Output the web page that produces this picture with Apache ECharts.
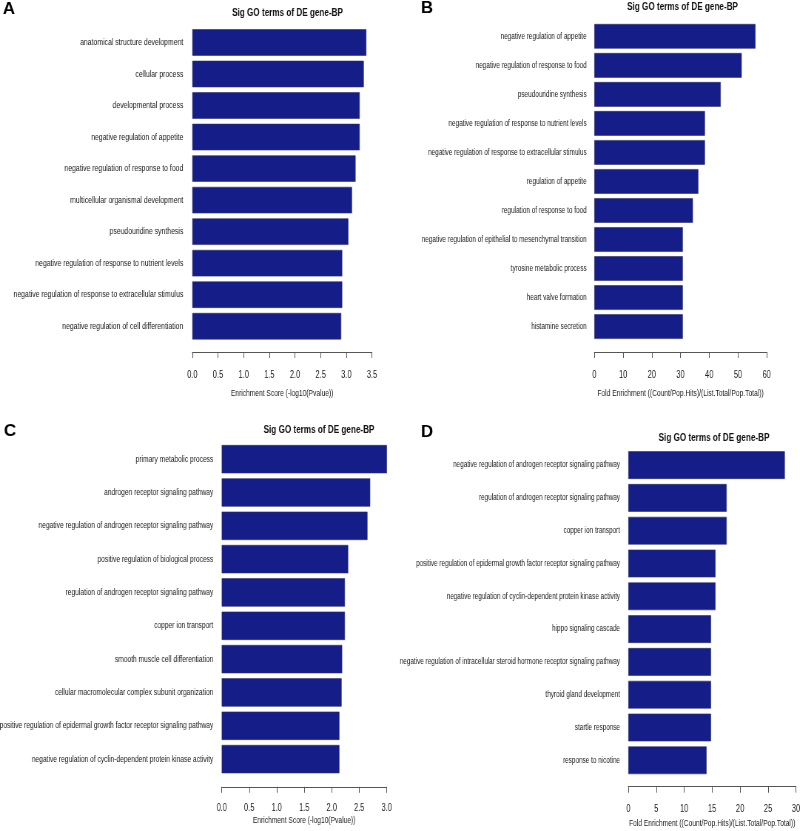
<!DOCTYPE html>
<html>
<head>
<meta charset="utf-8">
<script src="https://cdn.jsdelivr.net/npm/echarts@6/dist/echarts.min.js"></script>
<style>
html,body{margin:0;padding:0;background:#fff;}
#wrap{width:800px;height:831px;overflow:hidden;position:relative;}
#chart{height:831px;transform-origin:0 0;}
</style>
</head>
<body>
<div id="wrap"><div id="chart"></div></div>
<script>
// ---- Data ----
const chartTitle = 'Sig GO terms of DE gene-BP';
const panelLetters = ['A', 'B', 'C', 'D'];

const catsA = [
  'anatomical structure development',
  'cellular process',
  'developmental process',
  'negative regulation of appetite',
  'negative regulation of response to food',
  'multicellular organismal development',
  'pseudouridine synthesis',
  'negative regulation of response to nutrient levels',
  'negative regulation of response to extracellular stimulus',
  'negative regulation of cell differentiation'
];
const valsA = [3.39, 3.34, 3.26, 3.26, 3.18, 3.11, 3.04, 2.92, 2.92, 2.90];

const catsB = [
  'negative regulation of appetite',
  'negative regulation of response to food',
  'pseudouridine synthesis',
  'negative regulation of response to nutrient levels',
  'negative regulation of response to extracellular stimulus',
  'regulation of appetite',
  'regulation of response to food',
  'negative regulation of epithelial to mesenchymal transition',
  'tyrosine metabolic process',
  'heart valve formation',
  'histamine secretion'
];
const valsB = [56.1, 51.3, 44.0, 38.5, 38.5, 36.2, 34.3, 30.8, 30.8, 30.8, 30.8];

const catsC = [
  'primary metabolic process',
  'androgen receptor signaling pathway',
  'negative regulation of androgen receptor signaling pathway',
  'positive regulation of biological process',
  'regulation of androgen receptor signaling pathway',
  'copper ion transport',
  'smooth muscle cell differentiation',
  'cellular macromolecular complex subunit organization',
  'positive regulation of epidermal growth factor receptor signaling pathway',
  'negative regulation of cyclin-dependent protein kinase activity'
];
const valsC = [3.01, 2.70, 2.65, 2.30, 2.24, 2.24, 2.19, 2.18, 2.14, 2.14];

const catsD = [
  'negative regulation of androgen receptor signaling pathway',
  'regulation of androgen receptor signaling pathway',
  'copper ion transport',
  'positive regulation of epidermal growth factor receptor signaling pathway',
  'negative regulation of cyclin-dependent protein kinase activity',
  'hippo signaling cascade',
  'negative regulation of intracellular steroid hormone receptor signaling pathway',
  'thyroid gland development',
  'startle response',
  'response to nicotine'
];
const valsD = [28.0, 17.6, 17.6, 15.6, 15.6, 14.8, 14.8, 14.8, 14.8, 14.0];

const axisNameES = 'Enrichment Score (-log10(Pvalue))';
const axisNameFE = 'Fold Enrichment ((Count/Pop.Hits)/(List.Total/Pop.Total))';
const axisMaxes = [3.5, 60, 3.0, 30];
const axisSteps = [0.5, 10, 0.5, 5];

// ---- Layout (screen pixels; the figure is horizontally condensed like the original) ----
const S = 0.74;                       // horizontal condensation of the whole figure
const W = 800 / S;
const el = document.getElementById('chart');
el.style.width = W + 'px';
el.style.transform = 'scaleX(' + S + ')';

const font = "'Liberation Sans',Arial,sans-serif";
const barColor = '#151d88';
const layout = [
  {left:192.3, top:26.7, width:179.7, height:315.3, offset:10, lblMargin:18, nameGap:37, labMargin:9, labSize:9.3, gap:'16%', title:[287.5,13], letter:[9,9]},
  {left:594.3, top:21.8, width:172.4, height:319.3, offset:10.9, lblMargin:18, nameGap:37, labMargin:7.6, labSize:8.7, gap:'15%', title:[682.5,7], letter:[427,8.5]},
  {left:221.7, top:442.5, width:165, height:333.3, offset:11, lblMargin:16, nameGap:29, labMargin:8.4, labSize:9, gap:'15%', title:[319,430], letter:[10,431]},
  {left:628.3, top:448.7, width:167.7, height:328, offset:10, lblMargin:18, nameGap:32, labMargin:8.3, labSize:8.6, gap:'15.5%', title:[714,438], letter:[427,432]}
];
const cats = [catsA, catsB, catsC, catsD];
const vals = [valsA, valsB, valsC, valsD];
const names = [axisNameES, axisNameFE, axisNameES, axisNameFE];

const grid = [], xAxis = [], yAxis = [], series = [], graphic = [];
for (let i = 0; i < 4; i++) {
  const L = layout[i];
  grid.push({left:L.left / S, top:L.top, width:L.width / S, height:L.height,
    containLabel:false, outerBoundsMode:'none'});
  xAxis.push({
    type:'value', gridIndex:i, min:0, max:axisMaxes[i], interval:axisSteps[i],
    position:'bottom', offset:L.offset,
    axisLine:{show:true, lineStyle:{color:'#555', width:1}},
    axisTick:{show:true, length:6, inside:false, lineStyle:{color:'#555'}},
    axisLabel:{show:true, margin:L.lblMargin, color:'#222', fontSize:10, fontFamily:font,
      hideOverlap:false,
      formatter: v => (axisSteps[i] < 1 ? v.toFixed(1) : String(v))},
    splitLine:{show:false},
    name:names[i], nameLocation:'middle', nameGap:L.nameGap,
    nameTextStyle:{color:'#1a1a1a', fontSize:9, fontFamily:font}
  });
  yAxis.push({
    type:'category', gridIndex:i, data:cats[i], inverse:true,
    axisLine:{show:false}, axisTick:{show:false},
    axisLabel:{margin:L.labMargin / S, color:'#1a1a1a', fontSize:L.labSize, fontFamily:font, interval:0}
  });
  series.push({
    type:'bar', xAxisIndex:i, yAxisIndex:i, data:vals[i], barCategoryGap:L.gap,
    itemStyle:{color:barColor, borderColor:'#2b2f66', borderWidth:0.6},
    silent:true, animation:false
  });
  graphic.push({type:'text', x:L.title[0] / S, y:L.title[1],
    style:{text:chartTitle, font:"bold 11px " + font, fill:'#111', align:'center', verticalAlign:'middle'}});
  graphic.push({type:'text', x:L.letter[0] / S, y:L.letter[1], scaleX:1 / S,
    style:{text:panelLetters[i], font:"bold 17px " + font, fill:'#000', align:'center', verticalAlign:'middle'}});
}

const chart = echarts.init(el, null, {renderer:'canvas', width:W, height:831});
chart.setOption({
  backgroundColor:'#fff',
  animation:false,
  grid, xAxis, yAxis, series, graphic
});
</script>
</body>
</html>
